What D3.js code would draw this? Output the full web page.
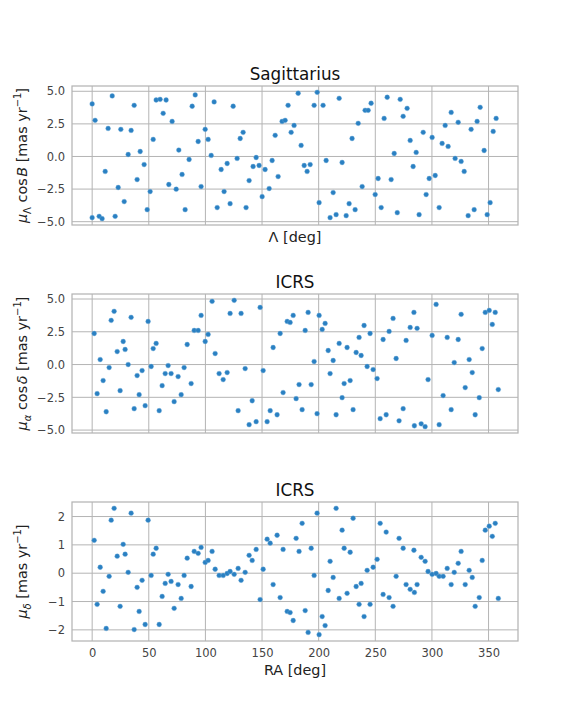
<!DOCTYPE html>
<html><head><meta charset="utf-8">
<script src="https://cdn.jsdelivr.net/npm/d3@7"></script>
<style>body{margin:0;background:#fff}svg{display:block}</style>
</head><body>
<svg id="chart" width="576" height="720"></svg>
<script>
// ---- data ----
const lambdaDeg = [0,0,2.6,6.2,8.8,11.5,14.1,17.7,20.3,23.0,25.3,28.3,31.8,34.4,37.1,39.7,42.4,45.9,48.6,51.2,53.9,56.5,60.0,62.7,65.3,67.7,70.6,74.2,76.5,79.4,82.1,85.6,88.3,91.0,93.6,96.2,99.8,102.4,105.1,107.7,110.4,113.9,116.5,119.2,121.8,124.5,128.0,130.7,133.3,135.9,138.6,142.1,144.8,147.4,150.1,152.7,156.3,158.9,161.6,164.2,167.7,170.4,173.0,175.7,178.3,181.9,184.5,187.2,189.8,192.5,196.0,198.7,200.4,203.9,206.6,210.1,212.8,215.4,218.1,220.7,224.3,226.9,229.5,232.2,234.9,238.4,241.0,243.7,246.3,249.9,252.5,255.2,257.8,260.5,264.0,266.7,269.4,272.0,274.6,278.1,280.8,283.4,286.1,288.7,292.3,294.9,297.6,300.2,302.9,306.4,309.0,311.7,314.3,317.0,320.5,323.2,325.8,328.5,332.0,334.6,337.3,339.9,342.6,346.1,348.8,351.4,354.1,356.7];
const pmLambdaCosB = [4.03,-4.69,2.77,-4.59,-4.77,-1.15,2.15,4.64,-4.59,-2.38,2.08,-3.46,0.15,2.00,3.92,-1.77,0.38,-0.62,-4.08,-2.69,1.31,4.33,4.38,3.31,4.33,-2.15,2.69,-2.51,0.49,-1.38,-4.08,-0.23,3.85,4.72,1.15,-2.31,2.08,1.31,0.08,4.18,-3.92,-1.00,-2.69,-0.54,-3.62,3.85,-0.15,1.38,1.85,-3.92,-1.85,-0.77,-0.08,-0.69,-3.08,-1.00,-2.46,-0.31,1.62,-1.54,2.69,2.77,3.92,1.85,2.38,4.85,0.85,-0.69,-1.15,-0.62,3.92,4.92,-3.54,3.92,-0.31,-4.69,-2.77,-4.46,4.46,-0.46,-4.54,-3.62,1.38,-4.08,2.54,-2.31,3.54,3.54,4.08,-2.92,-1.69,-3.92,2.92,4.54,-1.77,0.23,-4.31,4.38,3.08,3.69,1.23,-0.77,0.31,-4.46,1.85,-2.92,-1.69,1.46,-1.46,-3.92,1.00,2.38,0.77,3.38,-0.15,2.62,-0.38,-1.15,-4.54,2.08,-4.08,2.69,3.77,0.46,-4.46,-3.54,1.92,2.92];

const raDeg = [1.8,4.4,7.1,9.7,12.4,15.0,16.8,19.4,22.1,24.7,27.4,29.1,31.8,34.4,37.1,39.7,41.5,44.1,46.8,49.4,52.1,53.9,56.5,59.2,61.8,64.5,67.1,69.7,72.4,75.9,78.6,81.2,83.9,87.4,90.1,93.6,96.2,99.8,102.4,105.9,108.6,112.1,115.7,119.2,121.8,125.4,128.9,131.5,135.1,138.6,141.3,144.8,148.3,151.0,154.5,157.2,159.8,163.3,166.0,168.6,172.2,174.8,177.5,180.1,182.7,185.4,188.1,190.7,193.4,196.0,198.6,200.4,
  203.1,205.7,208.4,210.1,212.8,215.4,218.1,220.7,222.5,225.1,227.8,230.4,233.1,235.7,237.5,240.1,242.8,245.4,248.1,251.6,254.3,256.9,259.6,262.2,265.7,268.4,271.0,274.6,277.2,280.8,284.1,284.5,286.9,290.5,294.0,296.6,300.2,303.7,306.4,309.9,313.5,317.0,319.7,323.2,325.8,329.4,332.9,335.6,338.2,341.8,344.4,347.1,350.6,353.3,355.9,358.6];
const pmRaCosDec = [2.37,-2.22,0.38,-1.22,-3.60,-0.23,3.37,4.06,0.99,-1.99,1.76,1.15,0.00,3.60,-3.37,-0.84,-2.30,-0.46,-3.14,3.29,-0.15,1.22,1.61,-3.52,-1.61,-0.69,-0.08,-0.69,-2.83,-0.92,-2.30,-0.23,1.53,-1.45,2.60,2.60,3.75,1.76,2.30,4.82,0.84,-0.69,-1.15,-0.61,3.90,4.90,-3.52,3.90,-0.31,-4.59,-2.76,-4.36,4.36,-0.46,-4.36,-3.52,1.30,-3.83,2.37,-2.14,3.29,3.21,3.75,-2.60,-1.53,-3.44,2.60,3.98,-1.53,0.23,-3.75,3.75,
  2.68,3.14,1.07,-0.69,0.31,-3.83,1.61,-2.53,-1.45,1.30,-1.22,-3.44,0.92,2.07,0.69,2.98,-0.15,2.37,-0.38,-1.07,-4.13,1.91,-3.83,2.53,3.52,0.46,-4.29,-3.37,1.84,2.83,3.98,-4.67,2.76,-4.52,-4.74,-1.15,2.22,4.59,-4.59,-2.37,2.07,-3.44,0.15,1.91,3.83,-1.76,0.38,-0.61,-3.83,-2.53,1.22,3.98,4.13,3.06,3.98,-1.91];
const pmDec = [1.16,-1.10,0.21,-0.64,-1.95,-0.11,1.87,2.29,0.60,-1.17,1.02,0.67,0.03,2.12,-1.99,-0.50,-1.35,-0.25,-1.81,1.87,-0.08,0.67,0.88,-1.81,-0.82,-0.36,-0.04,-0.29,-1.24,-0.40,-0.89,-0.08,0.53,-0.47,0.77,0.70,0.91,0.38,0.45,0.77,0.14,-0.08,-0.08,-0.01,0.06,-0.04,0.17,-0.25,0.03,0.63,0.45,0.84,-0.93,0.14,1.20,1.06,-0.40,1.34,-0.86,0.84,-1.35,-1.39,-1.67,1.23,0.77,1.76,-1.32,-2.09,0.88,-0.08,2.12,-2.17,
  -1.53,-1.85,-0.61,0.42,-0.15,2.29,-0.89,1.52,0.88,-0.71,0.74,1.94,-0.47,-1.10,-0.36,-1.53,0.10,-1.10,0.21,0.49,1.76,-0.75,1.45,-0.86,-1.17,-0.11,1.23,0.88,-0.40,-0.57,0.81,-0.68,-0.40,0.56,0.42,0.06,-0.04,-0.01,-0.11,-0.11,0.17,-0.40,0.03,0.35,0.77,-0.40,0.10,-0.15,-1.17,-0.86,0.45,1.52,1.66,1.30,1.76,-0.89];

const xTicks = [0,50,100,150,200,250,300,350];
const yTicksPm = [-5,-2.5,0,2.5,5];
const yTicksDec = [-2,-1,0,1,2];
const titles = ["Sagittarius","ICRS","ICRS"];

// ---- layout ----
const svg = d3.select("#chart");
const FONT = "DejaVu Sans, Verdana, sans-serif";
const L = 72, R = 518, PH = 139;
const tops = [86, 294, 502];
const xDomain = [-17.8, 376];
const POINT = "#2a80c2", GRID = "#b4b4b4";

function padExtent(vals){
  const [a,b] = d3.extent(vals); const p = (b-a)*0.05; return [a-p, b+p];
}

const panels = [
  {x: lambdaDeg, y: pmLambdaCosB, yTicks: yTicksPm, fmt: d3.format(".1f"),
   xlabel: "Λ [deg]", showXTicks: false,
   ylabel: [["μ","it"],["Λ","sub"],[" cos","rm"],["B","it",1.5],[" [mas yr","rm"],["−1","sup"],["]","rm",0,-1]]},
  {x: raDeg, y: pmRaCosDec, yTicks: yTicksPm, fmt: d3.format(".1f"),
   xlabel: null, showXTicks: false,
   ylabel: [["μ","it"],["α","subit"],[" cos","rm"],["δ","it",1.5],[" [mas yr","rm"],["−1","sup"],["]","rm",0,-1]]},
  {x: raDeg, y: pmDec, yTicks: yTicksDec, fmt: d3.format("d"),
   xlabel: "RA [deg]", showXTicks: true,
   ylabel: [["μ","it"],["δ","subit"],[" [mas yr","rm"],["−1","sup"],["]","rm",0,-1]]}
];

panels.forEach((p, i) => {
  const top = tops[i], bottom = top + PH;
  const x = d3.scaleLinear().domain(xDomain).range([L, R]);
  const y = d3.scaleLinear().domain(padExtent(p.y)).range([bottom, top]);
  const g = svg.append("g");

  // grid
  g.append("g").selectAll("line").data(xTicks).join("line")
    .attr("x1", d => x(d)).attr("x2", d => x(d)).attr("y1", top).attr("y2", bottom)
    .attr("stroke", GRID).attr("stroke-width", 1);
  g.append("g").selectAll("line").data(p.yTicks).join("line")
    .attr("x1", L).attr("x2", R).attr("y1", d => y(d)).attr("y2", d => y(d))
    .attr("stroke", GRID).attr("stroke-width", 1);

  // frame
  g.append("rect").attr("x", L).attr("y", top).attr("width", R-L).attr("height", PH)
    .attr("fill", "none").attr("stroke", GRID).attr("stroke-width", 1.25);

  // y tick labels via axis
  const ya = d3.axisLeft(y).tickValues(p.yTicks).tickSize(0).tickPadding(7)
    .tickFormat(d => p.fmt(d).replace("-", "−"));
  const yg = g.append("g").attr("transform", `translate(${L},0)`).call(ya);
  yg.select(".domain").remove();
  yg.selectAll("text").attr("font-family", FONT).attr("font-size", 11.5).attr("fill", "#444");

  if (p.showXTicks) {
    const xa = d3.axisBottom(x).tickValues(xTicks).tickSize(0).tickPadding(8).tickFormat(d3.format("d"));
    const xg = g.append("g").attr("transform", `translate(0,${bottom})`).call(xa);
    xg.select(".domain").remove();
    xg.selectAll("text").attr("font-family", FONT).attr("font-size", 11.5).attr("fill", "#444");
  }

  // points
  g.append("g").selectAll("circle").data(p.x.map((v, k) => [v, p.y[k]])).join("circle")
    .attr("cx", d => x(d[0])).attr("cy", d => y(d[1])).attr("r", 2.4)
    .attr("fill", POINT).attr("stroke", "#6aa9d8").attr("stroke-width", 0.4);

  // title
  g.append("text").attr("x", (L+R)/2).attr("y", top - 6.5).attr("text-anchor", "middle")
    .attr("font-family", FONT).attr("font-size", 16.8).attr("fill", "#111").text(titles[i]);

  // x label
  if (p.xlabel) {
    g.append("text").attr("x", (L+R)/2).attr("y", p.showXTicks ? bottom + 34 : bottom + 17)
      .attr("text-anchor", "middle").attr("font-family", FONT).attr("font-size", 14.4)
      .attr("fill", "#222").text(p.xlabel);
  }

  // y label (rotated, with sub/superscripts)
  const yl = g.append("text")
    .attr("transform", `translate(27,${top + PH/2}) rotate(-90)`)
    .attr("text-anchor", "middle").attr("font-family", FONT).attr("font-size", 14.4).attr("fill", "#222");
  let shift = 0;
  p.ylabel.forEach(([t, kind, dxExtra, dxAfter]) => {
    const ts = yl.append("tspan").text(t);
    let dy = 0;
    if (kind === "it") ts.attr("font-style", "italic");
    if (kind === "sub" || kind === "subit") { ts.attr("font-size", 10); dy = 3.5; if (kind === "subit") ts.attr("font-style", "italic"); }
    if (kind === "sup") { ts.attr("font-size", 10); dy = -6; }
    ts.attr("dy", dy - shift);
    shift = dy;
    if (dxExtra) ts.attr("dx", dxExtra);
    if (dxAfter) ts.attr("dx", dxAfter);
  });
});
</script>
</body></html>
